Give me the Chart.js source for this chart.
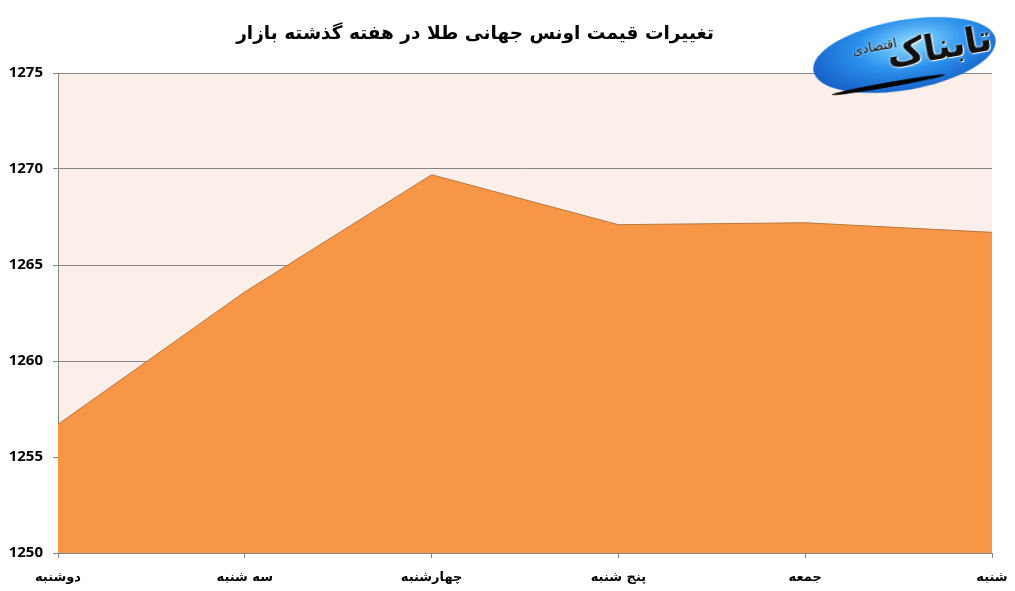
<!DOCTYPE html>
<html>
<head>
<meta charset="utf-8">
<script src="https://cdn.jsdelivr.net/npm/chart.js@4/dist/chart.umd.min.js"></script>
<style>
  html, body { margin: 0; padding: 0; background: #fff; }
  #wrap { position: relative; width: 1015px; height: 591px; }
  #title {
    position: absolute; left: 175px; width: 600px; top: 22px;
    text-align: center; direction: rtl;
    font: bold 18.5px "DejaVu Sans", sans-serif; color: #000;
  }
  #logo {
    position: absolute; left: 812px; top: 20px; width: 185px; height: 70px;
    border-radius: 50%; transform: rotate(-10deg);
    background: radial-gradient(ellipse at 55% 35%, #8fdcff 0%, #2a90ec 40%, #0b3fae 100%);
  }
  #logo .big {
    position: absolute; right: 4px; top: 12px; direction: rtl;
    font: bold 36px "DejaVu Sans", sans-serif; color: #111;
    text-shadow: 0 0 3px #fff, 1px 1px 0 #fff;
  }
  #logo .small {
    position: absolute; left: 42px; top: 14px; direction: rtl;
    font: 13px "DejaVu Sans", sans-serif; color: #111;
    text-shadow: 0 0 2px #fff;
  }
  #logo .swoosh {
    position: absolute; left: 14px; bottom: 6px; width: 115px; height: 5px;
    background: #000; border-radius: 50%;
  }
</style>
</head>
<body>
<div id="wrap">
  <canvas id="chart"></canvas>
  <div id="title">تغییرات قیمت اونس جهانی طلا در هفته گذشته بازار</div>
  <div id="logo"><span class="small">اقتصادی</span><span class="big">تابناک</span><div class="swoosh"></div></div>
</div>
<script>
// روزهای هفته و قیمت اونس طلا (دلار)
const days = ["دوشنبه", "سه شنبه", "چهارشنبه", "پنج شنبه", "جمعه", "شنبه"];
const prices = [1256.7, 1263.6, 1269.7, 1267.1, 1267.2, 1266.7];
const yTicks = [1250, 1255, 1260, 1265, 1270, 1275];

const plotBg = {
  id: 'plotBg',
  beforeDraw(chart) {
    const { ctx, chartArea: a } = chart;
    ctx.save();
    ctx.fillStyle = '#fcefe9';
    ctx.fillRect(a.left, a.top, a.right - a.left, a.bottom - a.top);
    ctx.restore();
  }
};

const ctx = document.getElementById('chart').getContext('2d');
new Chart(ctx, {
  type: 'line',
  data: {
    labels: days,
    datasets: [{
      data: prices,
      fill: 'start',
      backgroundColor: '#f79646',
      borderColor: '#b9773f',
      borderWidth: 1,
      pointRadius: 0,
      tension: 0
    }]
  },
  options: {
    responsive: true,
    maintainAspectRatio: false,
    animation: false,
    layout: { padding: { top: 73, right: 23, left: 0, bottom: 0 } },
    plugins: { legend: { display: false }, tooltip: { enabled: false } },
    scales: {
      x: {
        offset: false,
        afterFit(s) { s.height = 38; s.paddingLeft = 0; s.paddingRight = 0; },
        grid: { drawOnChartArea: false, drawTicks: true, tickLength: 5, color: '#868686' },
        border: { color: '#868686' },
        ticks: {
          color: '#000', padding: 12, maxRotation: 0, autoSkip: false,
          font: { family: 'DejaVu Sans', size: 13, weight: 'bold' }
        }
      },
      y: {
        min: yTicks[0],
        max: yTicks[yTicks.length - 1],
        afterFit(s) { s.width = 58; },
        afterBuildTicks(s) { s.ticks = yTicks.map(v => ({ value: v })); },
        grid: { color: '#868686', tickLength: 5 },
        border: { color: '#868686' },
        ticks: {
          color: '#000', padding: 10,
          callback: v => String(v),
          font: { family: 'Open Sans', size: 15, weight: 'bold' }
        }
      }
    }
  },
  plugins: [plotBg]
});
</script>
</body>
</html>
